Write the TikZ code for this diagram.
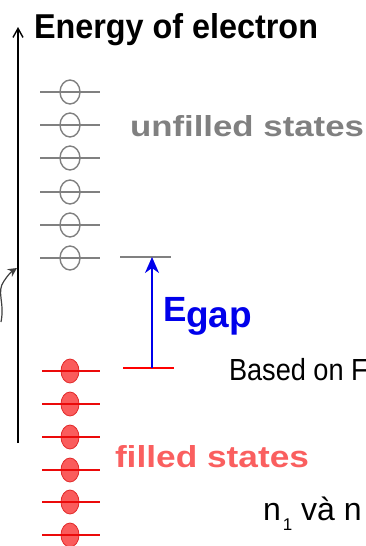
\documentclass[tikz,border=0pt]{standalone}
\usepackage{fontspec}
\setmainfont{Liberation Sans}
\usetikzlibrary{arrows.meta,shapes.geometric}
\definecolor{lvlgray}{RGB}{128,128,128}
\definecolor{fillred}{RGB}{250,92,92}
\definecolor{edgered}{RGB}{225,40,40}
\definecolor{linered}{RGB}{235,10,10}
\definecolor{txtred}{RGB}{250,95,95}
\definecolor{egapblue}{RGB}{0,0,235}
\begin{document}
\begin{tikzpicture}[x=1pt,y=-1pt,
  lvlu/.style={draw=lvlgray,line width=2pt},
  stu/.style={ellipse,draw=lvlgray,line width=1.4pt,minimum width=20pt,minimum height=24pt,inner sep=0pt},
  lvlf/.style={draw=linered,line width=2pt},
  stf/.style={ellipse,draw=edgered,fill=fillred,line width=0.8pt,minimum width=18pt,minimum height=24pt,inner sep=0pt},
  lbl/.style={inner sep=0pt,outer sep=0pt,anchor=base west}]
\useasboundingbox (0,0) rectangle (366,546);
\clip (0,0) rectangle (366,546);
% energy axis
\coordinate (axb) at (18,443);
\coordinate (axt) at (18,27);
\draw[line width=1.6pt,-{Straight Barb[length=9pt,width=10pt,line width=1.4pt]}] (axb) -- (axt);
\node[lbl] (title) at (34,38) {\resizebox{284pt}{25pt}{\bfseries Energy of electron}};
% curved arrow from the left
\coordinate (cva) at (1,322);
\coordinate (cvb) at (17,268);
\draw[line width=1.2pt,draw=black!75,-{Stealth[length=9pt,width=9pt]}] (cva) .. controls (5,302) and (-4,292) .. (4,281) .. controls (8,275) and (11,272) .. (cvb);
% unfilled states
\foreach \i/\y in {1/92,2/125,3/158,4/192,5/225,6/258}{
  \draw[lvlu] (40,\y) -- (100,\y);
  \node[stu] (u\i) at (70,\y) {};
}
\node[lbl,text=lvlgray] (unf) at (130,136) {\resizebox{234pt}{21pt}{\bfseries unfilled states}};
% filled states
\foreach \i/\y in {1/371,2/404,3/437,4/470,5/502,6/535,7/568}{
  \node[stf] (f\i) at (70,\y) {};
  \draw[lvlf] (42,\y) -- (100,\y);
}
\node[lbl,text=txtred] (fil) at (115,467) {\resizebox{194pt}{22pt}{\bfseries filled states}};
% gap
\coordinate (gtl) at (120,257);
\coordinate (gtr) at (171,257);
\coordinate (gbl) at (123,368);
\coordinate (gbr) at (174,368);
\coordinate (gtop) at (152,257);
\coordinate (gbot) at (152,368);
\draw[lvlu] (gtl) -- (gtr);
\draw[draw=red,line width=2pt] (gbl) -- (gbr);
\draw[draw=egapblue,line width=1.8pt,-{Stealth[length=16pt,width=14pt,inset=5pt]}] (gbot) -- (gtop);
\node[lbl,text=egapblue] (egap) at (163,321) {\fontsize{35}{40}\selectfont\bfseries E\raisebox{-6pt}{\fontsize{37}{40}\selectfont gap}};
% side texts (cut by the frame)
\node[lbl] (based) at (229,380) {\scalebox{0.89}[1]{\fontsize{30.5}{34}\selectfont Based on F}};
\node[lbl] (nn) at (263,520) {\fontsize{32}{36}\selectfont n\hspace{2pt}\raisebox{-10pt}{\fontsize{17}{20}\selectfont 1} và n};
\end{tikzpicture}
\end{document}
